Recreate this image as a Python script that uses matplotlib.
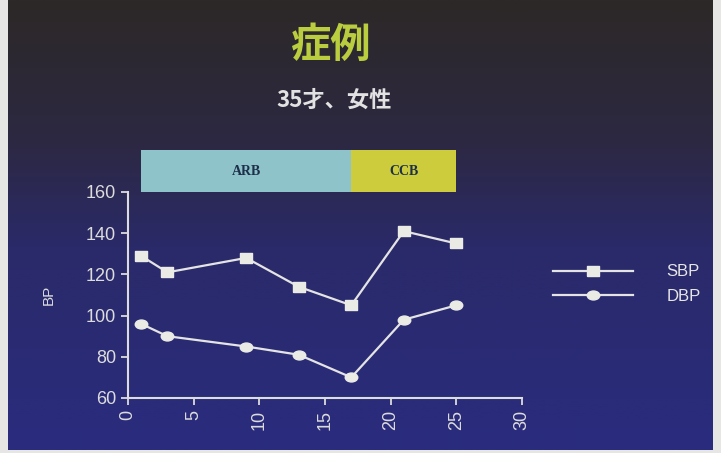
import numpy as np
import matplotlib
matplotlib.use("Agg")
import matplotlib.pyplot as plt
from matplotlib.path import Path
from matplotlib.patches import Rectangle
import matplotlib.transforms as mtransforms

plt.rcParams['font.family'] = ['Liberation Sans', 'DejaVu Sans']

# data
days = [1, 3, 9, 13, 17, 21, 25]
sbp = [129, 121, 128, 114, 105, 141, 135]
dbp = [96, 90, 85, 81, 70, 98, 105]

phases = ['ARB', 'CCB']
phase_start = [1, 17]
phase_end = [17, 25]
phase_colors = ['#8ec3c9', '#cccc3c']

xticks = [0, 5, 10, 15, 20, 25, 30]
yticks = [60, 80, 100, 120, 140, 160]

W, H = 721, 453
fig = plt.figure(figsize=(W / 100, H / 100), dpi=100)
fig.patch.set_facecolor('#e6e6e4')

# slide background: dark brown on top fading into navy
bg = fig.add_axes([8 / W, 3 / H, 705 / W, 450 / H])
bg.set_axis_off()
yy = np.linspace(0, 450, 200)
stops_y = [0, 140, 250, 450]
stops_c = np.array([[44, 41, 39], [45, 40, 66], [42, 42, 106], [42, 44, 126]]) / 255
grad = np.stack([np.interp(yy, stops_y, stops_c[:, i]) for i in range(3)], axis=1)
bg.imshow(grad[:, None, :], aspect='auto', extent=[0, 1, 0, 1])

fig.text(330 / W, 1 - 45 / H, '症例', color='#b9cd3e', fontsize=29,
         fontweight='bold', ha='center', va='center',
         family=['Noto Sans CJK JP', 'DejaVu Sans'])
fig.text(334 / W, 1 - 100 / H, '35才、女性', color='#e2e2e2', fontsize=16,
         fontweight='bold', ha='center', va='center',
         family=['Noto Sans CJK JP', 'DejaVu Sans'])

ax = fig.add_axes([128 / W, 1 - 398 / H, (522 - 128) / W, (398 - 192) / H])
ax.set_facecolor('none')
fc = '#dcdcdc'
for s in ['top', 'right']:
    ax.spines[s].set_visible(False)
for s in ['left', 'bottom']:
    ax.spines[s].set_color(fc)
    ax.spines[s].set_linewidth(1.5)
ax.set_xlim(0, 30)
ax.set_ylim(60, 160)
ax.set_xticks(xticks)
ax.set_yticks(yticks)
ax.tick_params(colors=fc, labelsize=13, length=5, width=1.3, direction='out')
ax.tick_params(axis='x', labelrotation=90)
ax.set_ylabel('BP', color=fc, fontsize=11, labelpad=22)

box = [(-1.35, -1), (1.35, -1), (1.35, 1), (-1.35, 1), (-1.35, -1)]
ell = Path.unit_circle().transformed(mtransforms.Affine2D().scale(1.4, 1.0))

ax.plot(days, sbp, color='#e4e4e4', lw=1.6, marker=box, ms=9,
        mfc='#ebebe6', mec='#ebebe6', label='SBP', clip_on=False)
ax.plot(days, dbp, color='#e4e4e4', lw=1.6, marker=ell, ms=9,
        mfc='#ebebe6', mec='#ebebe6', label='DBP', clip_on=False)

# treatment bars above the plot
trans = mtransforms.blended_transform_factory(ax.transData, ax.transAxes)
for name, a, b, c in zip(phases, phase_start, phase_end, phase_colors):
    ax.add_patch(Rectangle((a, 1.0), b - a, 0.205, transform=trans,
                           color=c, clip_on=False, lw=0))
    ax.text((a + b) / 2, 1.1, name, transform=trans, ha='center', va='center',
            fontsize=10, fontweight='bold', color='#1e2f4a',
            family=['Liberation Serif', 'DejaVu Serif'])

leg = fig.legend(loc='center left', bbox_to_anchor=(553 / W, 1 - 284 / H),
                 frameon=False, handlelength=4.8, handletextpad=2.0,
                 labelspacing=0.55, borderpad=0, borderaxespad=0,
                 numpoints=1, fontsize=12)
for t in leg.get_texts():
    t.set_color('#e6e6e6')

fig.savefig('out.png', dpi=100, facecolor=fig.get_facecolor())
